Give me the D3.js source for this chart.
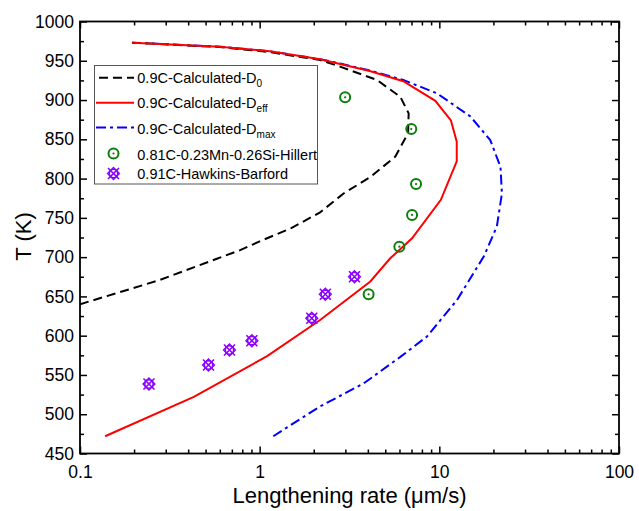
<!DOCTYPE html>
<html>
<head>
<meta charset="utf-8">
<script src="https://cdn.jsdelivr.net/npm/d3@7/dist/d3.min.js"></script>
<style>
  body { margin: 0; background: #fff; }
  svg { font-family: Arial, "Liberation Sans", sans-serif; }
</style>
</head>
<body>
<svg id="chart" width="639" height="511"></svg>
<script>
// ---- data (x: lengthening rate µm/s, T: K) ----
const seriesNames = ["0.9C-Calculated-D", "0.9C-Calculated-D", "0.9C-Calculated-D",
  "0.81C-0.23Mn-0.26Si-Hillert", "0.91C-Hawkins-Barford"];
const seriesSubs = ["0", "eff", "max", "", ""];

const d0Rate = [0.1, 0.279, 0.578, 0.779, 1.0, 1.5, 2.17, 2.93, 4.13, 5.69, 6.7, 6.75, 6.07, 4.5, 2.8, 2.17, 1.14, 0.6, 0.195];
const d0T    = [640, 671, 698, 709, 720, 737, 757, 781, 802, 828, 858, 883, 904, 925.5, 942.5, 951, 961, 967.5, 973];

const deffRate = [0.138, 0.43, 1.1, 2.17, 4.13, 5.33, 5.99, 7.05, 10.2, 12.5, 12.5, 11.6, 9.5, 6.3, 4.1, 2.8, 2.17, 1.14, 0.6, 0.195];
const deffT    = [472, 522, 574, 620, 669, 698.5, 709, 724, 773, 822, 847, 874, 899, 924, 937, 946, 952, 962, 968, 973];

const dmaxRate = [1.19, 2.17, 3.78, 6.07, 8.54, 12.55, 17.7, 20.9, 22.3, 21.9, 19.2, 14.9, 9.7, 6.3, 4.13, 2.8, 2.17, 1.14, 0.6, 0.195];
const dmaxT    = [472, 510, 539, 573, 599, 645.5, 701, 739, 781, 815, 849, 879, 908.6, 925.5, 937.5, 946.5, 952, 962, 968, 973];

const hillertRate = [2.99, 6.98, 7.42, 7.05, 5.99, 4.04];
const hillertT    = [903.5, 863, 793, 753.7, 713.3, 652.7];

const hawkinsRate = [0.242, 0.519, 0.679, 0.905, 1.95, 2.32, 3.37];
const hawkinsT    = [538.5, 562.7, 581.8, 593.6, 622.2, 652.7, 675];

const yTicks = [450, 500, 550, 600, 650, 700, 750, 800, 850, 900, 950, 1000];
const xTicks = [0.1, 1, 10, 100];
const xTickLabels = ["0.1", "1", "10", "100"];

// ---- layout ----
const L = 80, R = 619, T = 21.5, B = 453.5;
const svg = d3.select("#chart");
const x = d3.scaleLog().domain([0.1, 100]).range([L, R]);
const y = d3.scaleLinear().domain([450, 1000]).range([B, T]);

const zip = (a, b) => a.map((v, i) => [v, b[i]]);

svg.append("defs").append("clipPath").attr("id", "clip")
  .append("rect").attr("x", L).attr("y", T).attr("width", R - L).attr("height", B - T);

// minor ticks
const xMinor = [];
[0.1, 1, 10].forEach(d => { for (let k = 2; k <= 9; k++) xMinor.push(d * k); });
const yMinor = d3.range(475, 1000, 50);

function styleAxis(g) {
  g.select(".domain").remove();
  g.selectAll("line").attr("stroke", "#000").attr("stroke-width", 1.5);
  g.selectAll("text").attr("font-size", "17.5px").attr("fill", "#000")
    .attr("font-family", "Arial, 'Liberation Sans', sans-serif");
}

// bottom
svg.append("g").attr("transform", `translate(0,${B})`)
  .call(d3.axisBottom(x).tickValues(xTicks).tickFormat((d, i) => xTickLabels[i]).tickSize(-7).tickPadding(12))
  .call(styleAxis);
svg.append("g").attr("transform", `translate(0,${B})`)
  .call(d3.axisBottom(x).tickValues(xMinor).tickFormat("").tickSize(-4))
  .call(styleAxis);
// top
svg.append("g").attr("transform", `translate(0,${T})`)
  .call(d3.axisTop(x).tickValues(xTicks).tickFormat("").tickSize(-7))
  .call(styleAxis);
svg.append("g").attr("transform", `translate(0,${T})`)
  .call(d3.axisTop(x).tickValues(xMinor).tickFormat("").tickSize(-4))
  .call(styleAxis);
// left
svg.append("g").attr("transform", `translate(${L},0)`)
  .call(d3.axisLeft(y).tickValues(yTicks).tickFormat(d3.format("d")).tickSize(-7).tickPadding(6))
  .call(styleAxis);
svg.append("g").attr("transform", `translate(${L},0)`)
  .call(d3.axisLeft(y).tickValues(yMinor).tickFormat("").tickSize(-4))
  .call(styleAxis);
// right
svg.append("g").attr("transform", `translate(${R},0)`)
  .call(d3.axisRight(y).tickValues(yTicks).tickFormat("").tickSize(-7))
  .call(styleAxis);
svg.append("g").attr("transform", `translate(${R},0)`)
  .call(d3.axisRight(y).tickValues(yMinor).tickFormat("").tickSize(-4))
  .call(styleAxis);

// frame
svg.append("rect").attr("x", L).attr("y", T).attr("width", R - L).attr("height", B - T)
  .attr("fill", "none").attr("stroke", "#000").attr("stroke-width", 1.8);

// lines
const line = d3.line().x(d => x(d[0])).y(d => y(d[1]));
const plot = svg.append("g").attr("clip-path", "url(#clip)");
plot.append("path").datum(zip(dmaxRate, dmaxT)).attr("d", line)
  .attr("fill", "none").attr("stroke", "#0000ff").attr("stroke-width", 2)
  .attr("stroke-dasharray", "10,4,3,4");
plot.append("path").datum(zip(d0Rate, d0T)).attr("d", line)
  .attr("fill", "none").attr("stroke", "#000").attr("stroke-width", 2)
  .attr("stroke-dasharray", "9,5");
plot.append("path").datum(zip(deffRate, deffT)).attr("d", line)
  .attr("fill", "none").attr("stroke", "#ff0000").attr("stroke-width", 2);

// markers
const green = "#0a7f0a", purple = "#8a00ff";
function hillertMarker(g, cx, cy) {
  g.append("circle").attr("cx", cx).attr("cy", cy).attr("r", 5)
    .attr("fill", "none").attr("stroke", green).attr("stroke-width", 2);
  g.append("circle").attr("cx", cx).attr("cy", cy).attr("r", 1.1).attr("fill", green);
}
function hawkinsMarker(g, cx, cy) {
  const s = 5.5;
  g.append("circle").attr("cx", cx).attr("cy", cy).attr("r", 4.2)
    .attr("fill", "none").attr("stroke", purple).attr("stroke-width", 1.6);
  g.append("path").attr("d", `M${cx - s},${cy - s}L${cx + s},${cy + s}M${cx - s},${cy + s}L${cx + s},${cy - s}`)
    .attr("stroke", purple).attr("stroke-width", 1.6);
  g.append("path").attr("d", `M${cx},${cy - s - 0.5}L${cx + s + 0.5},${cy}L${cx},${cy + s + 0.5}L${cx - s - 0.5},${cy}Z`)
    .attr("fill", "none").attr("stroke", purple).attr("stroke-width", 1.3);
}
const mk = svg.append("g");
zip(hillertRate, hillertT).forEach(d => hillertMarker(mk, x(d[0]), y(d[1])));
zip(hawkinsRate, hawkinsT).forEach(d => hawkinsMarker(mk, x(d[0]), y(d[1])));

// axis titles
svg.append("text").attr("x", (L + R) / 2).attr("y", 502.5).attr("text-anchor", "middle")
  .attr("font-size", "22px").attr("fill", "#000").text("Lengthening rate (μm/s)");
svg.append("text").attr("transform", `translate(31,${(T + B) / 2 - 1}) rotate(-90)`)
  .attr("text-anchor", "middle").attr("font-size", "22px").attr("fill", "#000").text("T (K)");

// legend
const lg = svg.append("g");
lg.append("rect").attr("x", 94.5).attr("y", 65.5).attr("width", 223).attr("height", 118.5)
  .attr("fill", "#fff").attr("stroke", "#555").attr("stroke-width", 1);
const rowBase = [83.3, 108.2, 133.7, 159.7, 178.7];
const textX = 137.3;
rowBase.forEach((b, i) => {
  const t = lg.append("text").attr("x", textX).attr("y", b).attr("font-size", "14.5px").attr("fill", "#000");
  t.append("tspan").text(seriesNames[i]);
  if (seriesSubs[i]) t.append("tspan").attr("font-size", "10px").attr("dy", 4).text(seriesSubs[i]);
});
lg.append("line").attr("x1", 96).attr("x2", 134).attr("y1", 77.7).attr("y2", 77.7)
  .attr("stroke", "#000").attr("stroke-width", 2).attr("stroke-dasharray", "9,5").attr("stroke-dashoffset", -3);
lg.append("line").attr("x1", 96).attr("x2", 134).attr("y1", 102.7).attr("y2", 102.7)
  .attr("stroke", "#ff0000").attr("stroke-width", 2);
lg.append("line").attr("x1", 96).attr("x2", 134).attr("y1", 127.5).attr("y2", 127.5)
  .attr("stroke", "#0000ff").attr("stroke-width", 2).attr("stroke-dasharray", "10,4,3,4");
hillertMarker(lg, 113.5, 153.5);
hawkinsMarker(lg, 113.5, 173.5);
</script>
</body>
</html>
